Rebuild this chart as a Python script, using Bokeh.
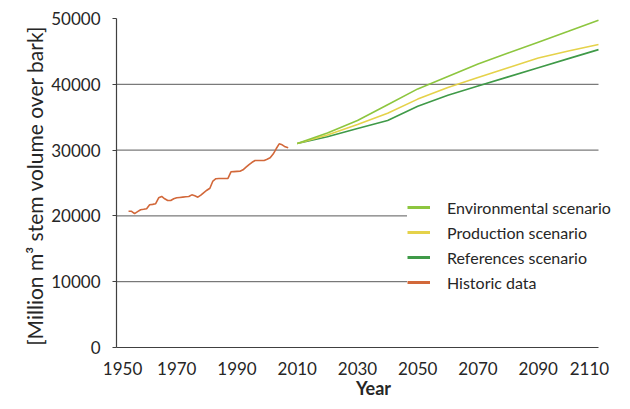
from bokeh.plotting import figure
from bokeh.models import FixedTicker, NumeralTickFormatter, Legend, LegendItem, Range1d
from bokeh.embed import file_html
from bokeh.resources import INLINE

# ---- data ----
hist_years = list(range(1954, 2008))
hist_vals = [20700, 20700, 20350, 20650, 20930, 21000, 21100, 21700, 21750, 21850,
             22750, 22950, 22600, 22340, 22340, 22600, 22750, 22800, 22850, 22900,
             22950, 23200, 23050, 22850, 23150, 23550, 23900, 24200, 25300, 25650,
             25680, 25680, 25680, 25700, 26700, 26730, 26760, 26790, 27000, 27400,
             27800, 28150, 28420, 28420, 28420, 28420, 28600, 28830, 29400, 30200,
             30950, 30800, 30500, 30350]

scen_years = [2010, 2020, 2030, 2040, 2050, 2060, 2070, 2080, 2090, 2100, 2110]
env_vals = [31000, 32600, 34500, 36900, 39300, 41200, 43100, 44750, 46400, 48050, 49750]
prod_vals = [31000, 32300, 33900, 35600, 37750, 39500, 41030, 42520, 44000, 45050, 46050]
ref_vals = [31000, 32020, 33280, 34510, 36650, 38340, 39750, 41130, 42510, 43900, 45270]

x_tick_labels = ["1950", "1970", "1990", "2010", "2030", "2050", "2070", "2090", "2110"]
x_tick_pos = [1952, 1970, 1990, 2010, 2030, 2050, 2070, 2090, 2107]
y_ticks = [0, 10000, 20000, 30000, 40000, 50000]
grid_ticks = [10000, 20000, 30000, 40000]
x_axis_start, x_axis_end = 1950, 2110

series_names = ["Environmental scenario", "Production scenario", "References scenario", "Historic data"]
colors = ["#8DC63F", "#E5D24A", "#3F9A48", "#D2683A"]

FONT = "Lato"
TXT = "#262626"

# plot area: axis from x=116 to x=598 px; the frame runs on to the right edge so the legend fits
W, H = 630, 409
left, axis_px = 116, 482
x_end = x_axis_end + (W - left - axis_px) * (x_axis_end - x_axis_start) / axis_px

p = figure(width=W, height=H, output_backend="svg", toolbar_location=None,
           x_range=Range1d(x_axis_start, x_end), y_range=Range1d(0, 50000),
           min_border_left=left, min_border_right=0, min_border_top=18, min_border_bottom=62)
p.outline_line_color = None
p.background_fill_color = "white"
p.border_fill_color = "white"

p.xgrid.visible = False
p.ygrid.visible = False
# horizontal gridlines limited to the axis extent
p.segment(x0=[x_axis_start] * len(grid_ticks), y0=grid_ticks,
          x1=[x_axis_end] * len(grid_ticks), y1=grid_ticks,
          line_color="#595959", line_width=1)

xa = p.xaxis[0]
xa.bounds = (x_axis_start, x_axis_end)
xa.ticker = FixedTicker(ticks=x_tick_pos)
xa.major_label_overrides = {pos: lab for pos, lab in zip(x_tick_pos, x_tick_labels)}
xa.major_tick_in = 0
xa.major_tick_out = 0
xa.minor_tick_in = 0
xa.minor_tick_out = 0
xa.axis_line_color = "#404040"
xa.axis_line_width = 1.2
xa.major_label_text_font = FONT
xa.major_label_text_font_size = "17px"
xa.major_label_text_color = TXT
xa.major_label_standoff = 14
xa.axis_label = "Year"
xa.axis_label_text_font = FONT
xa.axis_label_text_font_style = "bold"
xa.axis_label_text_font_size = "18px"
xa.axis_label_text_color = TXT
xa.axis_label_standoff = -1

ya = p.yaxis[0]
ya.ticker = FixedTicker(ticks=y_ticks)
ya.formatter = NumeralTickFormatter(format="0")
ya.major_tick_in = 0
ya.major_tick_out = 4
ya.minor_tick_in = 0
ya.minor_tick_out = 0
ya.major_tick_line_color = "#404040"
ya.axis_line_color = "#404040"
ya.axis_line_width = 1.2
ya.major_label_text_font = FONT
ya.major_label_text_font_size = "17px"
ya.major_label_text_color = TXT
ya.major_label_standoff = 12
ya.axis_label = "[Million m\u00b3 stem volume over  bark]"
ya.axis_label_text_font = FONT
ya.axis_label_text_font_style = "normal"
ya.axis_label_text_font_size = "21px"
ya.axis_label_text_color = TXT
ya.axis_label_standoff = 1

# lines
p.line(hist_years, hist_vals, line_color=colors[3], line_width=1.6)
p.line(scen_years, ref_vals, line_color=colors[2], line_width=1.6)
p.line(scen_years, prod_vals, line_color=colors[1], line_width=1.6)
p.line(scen_years, env_vals, line_color=colors[0], line_width=1.6)

# legend proxies (thicker samples), drawn off-range so only the legend shows them
items = []
for name, c in zip(series_names, colors):
    r = p.line(x=[1800, 1801], y=[-1000, -1000], line_color=c, line_width=3)
    items.append(LegendItem(label=name, renderers=[r]))

legend = Legend(items=items, location=(291, 55), orientation="vertical",
                border_line_color=None, background_fill_color="white", background_fill_alpha=1.0,
                padding=10, spacing=5, margin=0, glyph_width=23, glyph_height=20,
                label_height=20, label_standoff=17,
                label_text_font=FONT, label_text_font_size="16px", label_text_color=TXT)
p.add_layout(legend, "center")

open("out.html", "w").write(file_html(p, INLINE))
